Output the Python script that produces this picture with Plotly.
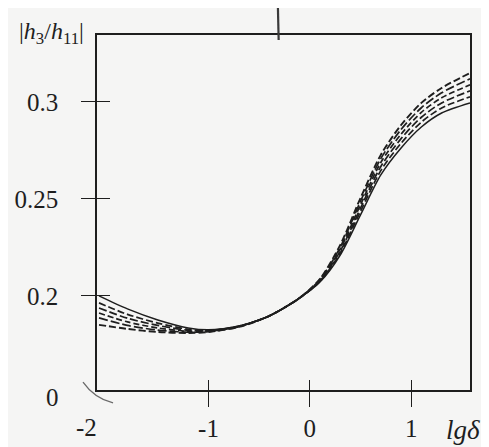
import plotly.graph_objects as go

# lg(delta) sample points
lg_delta = [-2.08, -1.8, -1.5, -1.2, -1.0, -0.7, -0.4, -0.1, 0.1, 0.3, 0.5, 0.7, 0.9, 1.1, 1.3, 1.58]

# |h3/h11| curves (solid first, then dashed ones)
curve_solid = [0.2000, 0.1933, 0.1876, 0.1835, 0.1825, 0.1845, 0.1897, 0.1990, 0.2072, 0.2211, 0.2418, 0.2624, 0.2763, 0.2871, 0.2943, 0.2995]
curve_d1 = [0.1964, 0.1905, 0.1860, 0.1828, 0.1822, 0.1844, 0.1897, 0.1990, 0.2075, 0.2221, 0.2436, 0.2646, 0.2787, 0.2896, 0.2969, 0.3026]
curve_d2 = [0.1938, 0.1885, 0.1848, 0.1823, 0.1820, 0.1843, 0.1897, 0.1990, 0.2078, 0.2231, 0.2453, 0.2667, 0.2811, 0.2921, 0.2995, 0.3057]
curve_d3 = [0.1912, 0.1866, 0.1835, 0.1817, 0.1818, 0.1842, 0.1897, 0.1990, 0.2081, 0.2242, 0.2470, 0.2688, 0.2834, 0.2946, 0.3021, 0.3088]
curve_d4 = [0.1887, 0.1848, 0.1824, 0.1813, 0.1816, 0.1841, 0.1897, 0.1990, 0.2084, 0.2252, 0.2488, 0.2708, 0.2858, 0.2970, 0.3047, 0.3119]
curve_d5 = [0.1851, 0.1830, 0.1814, 0.1809, 0.1814, 0.1840, 0.1897, 0.1990, 0.2088, 0.2263, 0.2505, 0.2727, 0.2881, 0.2995, 0.3072, 0.3149]

x_tickvals = [-1, 0, 1]
x_ticktext = ["-1", "0", "1"]
y_tickvals = [0.2, 0.25, 0.3]
y_ticktext = ["0.2", "0.25", "0.3"]

X_RANGE = [-2.1, 1.58]
Y_RANGE = [0.1515, 0.3345]

INK = "#1e1e1e"
FONT = "Liberation Serif, Times New Roman, DejaVu Serif, serif"

fig = go.Figure()

series = [
    (curve_solid, "solid", 1.5),
    (curve_d1, "7px,3px", 1.7),
    (curve_d2, "8px,3px", 1.7),
    (curve_d3, "6px,3px", 1.7),
    (curve_d4, "9px,3px", 1.7),
    (curve_d5, "7px,3px", 1.9),
]
for ys, dash, w in series:
    fig.add_trace(go.Scatter(
        x=lg_delta, y=ys, mode="lines",
        line=dict(color=INK, width=w, dash=dash, shape="spline", smoothing=0.8),
        showlegend=False, hoverinfo="skip",
    ))

# invisible trace to activate the overlay axes (inside tick halves)
fig.add_trace(go.Scatter(x=[X_RANGE[0]], y=[Y_RANGE[0]], xaxis="x2", yaxis="y2",
                         mode="markers", marker=dict(opacity=0), showlegend=False, hoverinfo="skip"))

fig.update_layout(
    width=481, height=439,
    margin=dict(l=89, r=19, t=27, b=57),
    paper_bgcolor="#f5f5f4",
    plot_bgcolor="#f5f5f4",
    font=dict(family=FONT, size=25, color=INK),
    xaxis=dict(
        range=X_RANGE, showgrid=False, zeroline=False, automargin=False,
        showline=True, linecolor=INK, linewidth=1.6, mirror=True,
        tickvals=x_tickvals, ticktext=x_ticktext,
        ticks="outside", ticklen=15, tickwidth=1.4, tickcolor=INK,
        ticklabelstandoff=0,
    ),
    yaxis=dict(
        range=Y_RANGE, showgrid=False, zeroline=False, automargin=False,
        showline=True, linecolor=INK, linewidth=1.6, mirror=True,
        tickvals=y_tickvals, ticktext=y_ticktext,
        ticks="outside", ticklen=14, tickwidth=1.4, tickcolor=INK,
        ticklabelstandoff=18,
    ),
    xaxis2=dict(
        range=X_RANGE, overlaying="x", showgrid=False, zeroline=False, showline=False,
        automargin=False,
        tickvals=x_tickvals, ticks="inside", ticklen=10, tickwidth=1.4, tickcolor=INK,
        showticklabels=False,
    ),
    yaxis2=dict(
        range=Y_RANGE, overlaying="y", showgrid=False, zeroline=False, showline=False,
        automargin=False,
        tickvals=y_tickvals, ticks="inside", ticklen=13, tickwidth=1.4, tickcolor=INK,
        showticklabels=False,
    ),
)

# corner labels
fig.add_annotation(x=-0.118, y=-0.02, xref="paper", yref="paper", text="0",
                   showarrow=False, xanchor="center", yanchor="middle",
                   font=dict(family=FONT, size=25, color=INK))
fig.add_annotation(x=-0.027, y=-0.107, xref="paper", yref="paper", text="-2",
                   showarrow=False, xanchor="center", yanchor="middle",
                   font=dict(family=FONT, size=25, color=INK))
# axis titles
fig.add_annotation(x=-0.215, y=1.005, xref="paper", yref="paper",
                   text="|<i>h</i><sub>3</sub>/<i>h</i><sub>11</sub>|",
                   showarrow=False, xanchor="left", yanchor="middle",
                   font=dict(family=FONT, size=24, color=INK))
fig.add_annotation(x=1.032, y=-0.113, xref="paper", yref="paper",
                   text="<i>lgδ</i>",
                   showarrow=False, xanchor="right", yanchor="middle",
                   font=dict(family=FONT, size=27, color=INK))

# axis break stroke near the origin
fig.add_shape(type="path", xref="paper", yref="paper",
              path="M -0.0375,0.0225 Q -0.008,-0.022 0.043,-0.0366",
              line=dict(color="#6a6a6a", width=1.3))
# stray pen mark crossing the top border
fig.add_shape(type="line", xref="paper", yref="paper",
              x0=0.485, y0=1.079, x1=0.487, y1=0.986,
              line=dict(color="#3a3a3a", width=2.2))

fig.write_html("out.html")
